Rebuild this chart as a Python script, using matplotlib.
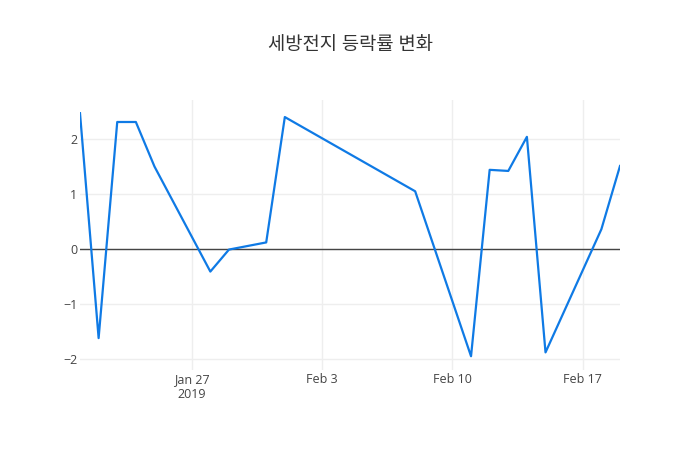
import matplotlib
matplotlib.use('Agg')
import matplotlib.pyplot as plt
import numpy as np

plt.rcParams['font.family'] = ['Open Sans', 'Noto Sans CJK KR', 'DejaVu Sans']

# 세방전지 daily change (%)
dates = ['2019-01-21', '2019-01-22', '2019-01-23', '2019-01-24', '2019-01-25',
         '2019-01-28', '2019-01-29', '2019-01-31', '2019-02-01', '2019-02-08',
         '2019-02-11', '2019-02-12', '2019-02-13', '2019-02-14', '2019-02-15',
         '2019-02-18', '2019-02-19']
changes = [2.47, -1.62, 2.31, 2.31, 1.50,
           -0.41, -0.01, 0.12, 2.40, 1.05,
           -1.95, 1.44, 1.42, 2.04, -1.88,
           0.36, 1.51]
tick_dates = ['2019-01-27', '2019-02-03', '2019-02-10', '2019-02-17']
tick_labels = ['Jan 27\n2019', 'Feb 3', 'Feb 10', 'Feb 17']
title = '세방전지 등락률 변화'

x = np.array(dates, dtype='datetime64[D]')
xt = np.array(tick_dates, dtype='datetime64[D]')

fig = plt.figure(figsize=(7, 4.5), dpi=100)
ax = fig.add_axes([80/700, 80/450, 540/700, 270/450])

ax.plot(x, changes, color='#0f7ae5', linewidth=1.6, zorder=3)
ax.axhline(0, color='#444444', linewidth=1, zorder=2)

ax.set_xlim(x[0], x[-1])
ax.set_ylim(-2.2, 2.71)
ax.set_xticks(xt)
ax.set_xticklabels(tick_labels)
yt = [-2, -1, 0, 1, 2]
ax.set_yticks(yt)
ax.set_yticklabels([str(v).replace('-', '\u2212') for v in yt])

ax.grid(True, color='#eeeeee', linewidth=1, zorder=0)
ax.set_axisbelow(True)
for s in ax.spines.values():
    s.set_visible(False)
ax.tick_params(length=0, labelsize=9, labelcolor='#444444')
ax.tick_params(axis='x', pad=2)
ax.tick_params(axis='y', pad=2)

fig.text(0.5, 1 - 45/450, title, ha='center', va='center', fontsize=13.5,
         color='#333333', fontweight='medium')

fig.savefig('out.png', dpi=100)
